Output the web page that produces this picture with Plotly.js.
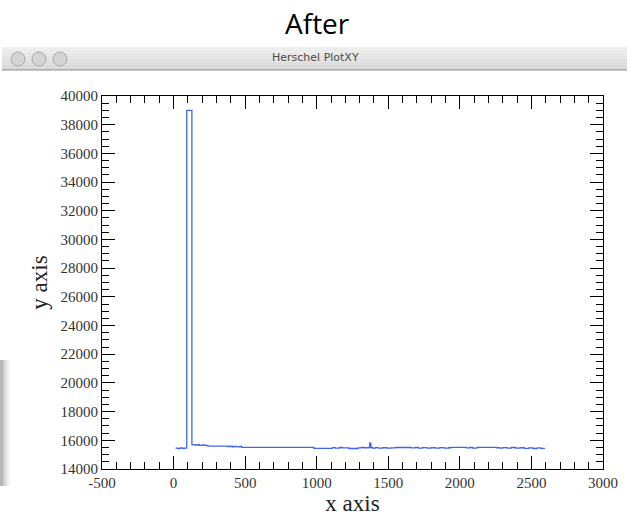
<!DOCTYPE html>
<html>
<head>
<meta charset="utf-8">
<script src="https://cdn.plot.ly/plotly-3.0.1.min.js"></script>
<style>
html,body{margin:0;padding:0;background:#fff;}
#chart{width:629px;height:517px;}
</style>
</head>
<body>
<div id="chart"></div>
<script>
// Data (step-like signal)
var xValues = [14, 30, 45, 60, 75, 92, 128, 150, 165, 180, 200, 215, 240, 380, 395, 410, 425, 440, 460, 475,
  980, 1110, 1130, 1160, 1180, 1225, 1290, 1310, 1330, 1365, 1370, 1378, 1390, 1410, 1430, 1460, 1490, 1520, 1550,
  1660, 1690, 1710, 1740, 1770, 1800, 1830, 1860, 1890, 1920, 1940, 2045, 2070, 2090, 2120, 2255, 2280, 2300, 2330,
  2360, 2390, 2420, 2450, 2480, 2510, 2540, 2565, 2590];
var yValues = [15450, 15420, 15470, 15440, 15460, 39000, 15700, 15660, 15690, 15650, 15680, 15640, 15600, 15560, 15590, 15550, 15580, 15540, 15570, 15510,
  15440, 15490, 15460, 15500, 15470, 15430, 15470, 15500, 15480, 15500, 15800, 15500, 15460, 15490, 15450, 15480, 15450, 15470, 15500,
  15470, 15500, 15460, 15490, 15450, 15480, 15460, 15490, 15450, 15480, 15510, 15470, 15500, 15460, 15510, 15480, 15450, 15490, 15460,
  15500, 15450, 15480, 15440, 15470, 15430, 15470, 15440, 15480];

var xTickVals = [-500, 0, 500, 1000, 1500, 2000, 2500, 3000];
var xTickText = ['-500', '0', '500', '1000', '1500', '2000', '2500', '3000'];
var yTickVals = [14000, 16000, 18000, 20000, 22000, 24000, 26000, 28000, 30000, 32000, 34000, 36000, 38000, 40000];
var yTickText = ['14000', '16000', '18000', '20000', '22000', '24000', '26000', '28000', '30000', '32000', '34000', '36000', '38000', '40000'];

var chartTitle = 'After';
var windowTitle = 'Herschel PlotXY';
var xTitle = 'x axis';
var yTitle = 'y axis';
var xRange = [-500, 3000];
var yRange = [14000, 40000];

var trace = {
  x: xValues, y: yValues, type: 'scatter', mode: 'lines',
  line: {color: '#3d66f5', width: 1.3, shape: 'hv'},
  hoverinfo: 'skip'
};

// geometry helpers for window chrome (paper coords)
var L = 102, R = 603, T = 96, B = 469;
function px(p){ return (p - L) / (R - L); }
function py(p){ return (B - p) / (B - T); }

var shapes = [];
// title bar gradient made of bands
var barTop = 47, barBot = 70, bands = 8;
for (var i = 0; i < bands; i++) {
  var c = Math.round(238 - i * (238 - 214) / (bands - 1));
  shapes.push({type:'rect', xref:'paper', yref:'paper', x0:px(2), x1:px(627),
    y0:py(barTop + (barBot-barTop)*(i+1)/bands), y1:py(barTop + (barBot-barTop)*i/bands),
    fillcolor:'rgb('+c+','+c+','+c+')', line:{width:0}});
}
shapes.push({type:'line', xref:'paper', yref:'paper', x0:px(2), x1:px(627), y0:py(barBot), y1:py(barBot), line:{color:'#8e8e8e', width:1}});
[18, 39, 60].forEach(function(cx){
  shapes.push({type:'circle', xref:'paper', yref:'paper', x0:px(cx-7), x1:px(cx+7), y0:py(59+7), y1:py(59-7),
    fillcolor:'#d4d4d4', line:{color:'#a9a9a9', width:1}});
});
// faint blurred shadow at left
var sh = [[0,3,0.25],[0,5,0.15],[0,7,0.1],[0,9,0.07],[0,11,0.04]];
sh.forEach(function(s){
  shapes.push({type:'rect', xref:'paper', yref:'paper', x0:px(s[0]), x1:px(s[1]), y0:py(486), y1:py(360),
    fillcolor:'rgba(110,110,110,'+s[2]+')', line:{width:0}});
});

var axisCommon = {
  showgrid:false, zeroline:false, showline:true, linecolor:'#000', linewidth:1,
  mirror:'ticks', ticks:'inside', ticklen:13, tickcolor:'#000', tickwidth:1,
  tickfont:{family:'Liberation Serif, Times New Roman, serif', size:15, color:'#333'}
};

var layout = {
  width:629, height:517,
  margin:{l:L, r:629-R, t:T, b:517-B},
  paper_bgcolor:'#fff', plot_bgcolor:'#fff',
  showlegend:false,
  xaxis: Object.assign({}, axisCommon, {
    range:xRange, tickmode:'array', tickvals:xTickVals, ticktext:xTickText,
    minor:{ticks:'inside', ticklen:7, dtick:100, tick0:0, tickcolor:'#000', tickwidth:1},
    title:{text:xTitle, font:{family:'Liberation Serif, Times New Roman, serif', size:23, color:'#222'}, standoff:2}
  }),
  yaxis: Object.assign({}, axisCommon, {
    range:yRange, tickmode:'array', tickvals:yTickVals, ticktext:yTickText,
    minor:{ticks:'inside', ticklen:7, dtick:500, tick0:0, tickcolor:'#000', tickwidth:1},
    title:{text:yTitle, font:{family:'Liberation Serif, Times New Roman, serif', size:23, color:'#222'}, standoff:6}
  }),
  shapes: shapes,
  annotations: [
    {text:chartTitle, xref:'paper', yref:'paper', x:px(317), y:py(23), showarrow:false,
      font:{family:'Open Sans, Lato, sans-serif', size:28, color:'#000'}, xanchor:'center', yanchor:'middle'},
    {text:windowTitle, xref:'paper', yref:'paper', x:px(315), y:py(58), showarrow:false,
      font:{family:'DejaVu Sans, sans-serif', size:11, color:'#4a4a4a'}, xanchor:'center', yanchor:'middle'}
  ]
};

Plotly.newPlot('chart', [trace], layout, {displayModeBar:false, staticPlot:true});
</script>
</body>
</html>
